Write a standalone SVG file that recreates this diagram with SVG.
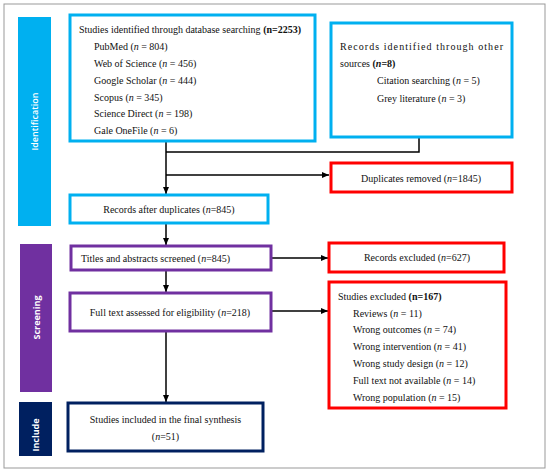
<svg xmlns="http://www.w3.org/2000/svg" width="550" height="473" viewBox="0 0 550 473">
<style>
.t{font-family:"Liberation Serif","Times New Roman",serif;font-size:10px;fill:#111}
.c{text-anchor:middle}
.b{font-weight:bold}
.i{font-style:italic}
.side{font-family:"Open Sans","DejaVu Sans",sans-serif;font-size:9px;font-weight:bold;fill:#fff;text-anchor:middle}
.cy{fill:#fff;stroke:#00B0F0;stroke-width:3}
.rd{fill:#fff;stroke:#FF0000;stroke-width:3}
.pu{fill:#fff;stroke:#7030A0;stroke-width:3}
.nv{fill:#fff;stroke:#002060;stroke-width:3}
.ln{fill:none;stroke:#000;stroke-width:1.5}
</style>
<defs>
<marker id="ah" markerWidth="8" markerHeight="8" refX="7" refY="4" orient="auto" markerUnits="userSpaceOnUse">
<path d="M0,1 L7,4 L0,7 z" fill="#000"/>
</marker>
</defs>
<rect x="4" y="4" width="541" height="464" fill="#fff" stroke="#999" stroke-width="1"/>

<g id="phase-identification">
<rect x="18" y="17" width="33" height="209" fill="#00B0F0"/>
<text class="side" transform="translate(38,121.5) rotate(-90)" style="font-weight:600">Identification</text>
</g>
<g id="phase-screening">
<rect x="20" y="244" width="32" height="148" fill="#7030A0"/>
<text class="side" transform="translate(39.5,317.5) rotate(-90)">Screening</text>
</g>
<g id="phase-include">
<rect x="19" y="402" width="33" height="54" fill="#002060"/>
<text class="side" transform="translate(39,435) rotate(-90)">Include</text>
</g>

<g id="connectors">
<line class="ln" x1="166" y1="141" x2="166" y2="194" marker-end="url(#ah)"/>
<polyline class="ln" points="419,137 419,152 166,152"/>
<line class="ln" x1="166" y1="175" x2="329" y2="175" marker-end="url(#ah)"/>
<line class="ln" x1="166" y1="223" x2="166" y2="245" marker-end="url(#ah)"/>
<line class="ln" x1="271" y1="258" x2="328" y2="258" marker-end="url(#ah)"/>
<line class="ln" x1="166" y1="270" x2="166" y2="292" marker-end="url(#ah)"/>
<line class="ln" x1="271" y1="311" x2="328" y2="311" marker-end="url(#ah)"/>
<line class="ln" x1="166" y1="331" x2="166" y2="402" marker-end="url(#ah)"/>
</g>

<g id="db-search">
<rect class="cy" x="70" y="15" width="245" height="126"/>
<text class="t" x="79" y="33">Studies identified through database searching <tspan class="b">(n=2253)</tspan></text>
<text class="t" x="94" y="50">PubMed (<tspan class="i">n</tspan> = 804)</text>
<text class="t" x="94" y="66.5">Web of Science (<tspan class="i">n</tspan> = 456)</text>
<text class="t" x="94" y="83.5">Google Scholar (<tspan class="i">n</tspan> = 444)</text>
<text class="t" x="94" y="100.5">Scopus (<tspan class="i">n</tspan> = 345)</text>
<text class="t" x="94" y="117">Science Direct (<tspan class="i">n</tspan> = 198)</text>
<text class="t" x="94" y="134">Gale OneFile (<tspan class="i">n</tspan> = 6)</text>
</g>

<g id="other-sources">
<rect class="cy" x="331" y="23" width="181" height="114"/>
<text class="t" x="340" y="50" textLength="163" lengthAdjust="spacing">Records identified through other</text>
<text class="t" x="340" y="67">sources <tspan class="b">(<tspan class="i">n</tspan>=8)</tspan></text>
<text class="t" x="377" y="84">Citation searching (<tspan class="i">n</tspan> = 5)</text>
<text class="t" x="377" y="101.5">Grey literature (<tspan class="i">n</tspan> = 3)</text>
</g>

<g id="duplicates-removed">
<rect class="rd" x="331" y="163" width="181" height="29"/>
<text class="t c" x="421" y="181.5">Duplicates removed (<tspan class="i">n</tspan>=1845)</text>
</g>

<g id="after-duplicates">
<rect class="cy" x="70" y="195" width="198" height="28"/>
<text class="t c" x="169" y="213">Records after duplicates (<tspan class="i">n</tspan>=845)</text>
</g>

<g id="titles-screened">
<rect class="pu" x="71" y="246" width="200" height="24"/>
<text class="t" x="81" y="261.5">Titles and abstracts screened (<tspan class="i">n</tspan>=845)</text>
</g>

<g id="records-excluded">
<rect class="rd" x="329" y="243" width="175" height="29"/>
<text class="t c" x="417" y="260.5">Records excluded (<tspan class="i">n</tspan>=627)</text>
</g>

<g id="full-text">
<rect class="pu" x="70" y="293" width="201" height="38"/>
<text class="t c" x="170" y="316">Full text assessed for eligibility (<tspan class="i">n</tspan>=218)</text>
</g>

<g id="studies-excluded">
<rect class="rd" x="329" y="282" width="177" height="126"/>
<text class="t" x="338" y="299.5">Studies excluded <tspan class="b">(n=167)</tspan></text>
<text class="t" x="353" y="316.5">Reviews (<tspan class="i">n</tspan> = 11)</text>
<text class="t" x="353" y="333">Wrong outcomes (<tspan class="i">n</tspan> = 74)</text>
<text class="t" x="353" y="350">Wrong intervention (<tspan class="i">n</tspan> = 41)</text>
<text class="t" x="353" y="367">Wrong study design (<tspan class="i">n</tspan> = 12)</text>
<text class="t" x="353" y="384">Full text not available (<tspan class="i">n</tspan> = 14)</text>
<text class="t" x="353" y="400.5">Wrong population (<tspan class="i">n</tspan> = 15)</text>
</g>

<g id="included">
<rect class="nv" x="68" y="403" width="195" height="48"/>
<text class="t c" x="165.5" y="422.5">Studies included in the final synthesis</text>
<text class="t c" x="165.5" y="439.5">(<tspan class="i">n</tspan>=51)</text>
</g>
</svg>
